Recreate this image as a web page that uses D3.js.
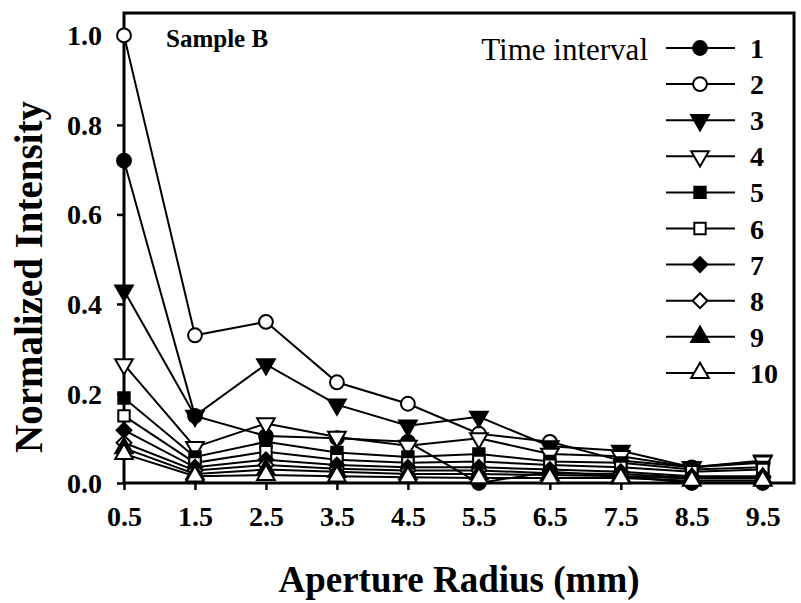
<!DOCTYPE html>
<html>
<head>
<meta charset="utf-8">
<script src="https://cdn.jsdelivr.net/npm/d3@7"></script>
<style>
  body { margin: 0; background: #fff; }
  svg text { font-family: "Times New Roman", "Liberation Serif", Times, serif; }
</style>
</head>
<body>
<svg id="chart" width="801" height="603"></svg>
<script>
// ---------------- data ----------------
const radius = [0.5, 1.5, 2.5, 3.5, 4.5, 5.5, 6.5, 7.5, 8.5, 9.5];
const seriesNames = ["1", "2", "3", "4", "5", "6", "7", "8", "9", "10"];

const s1  = [0.72, 0.15, 0.105, 0.10, 0.092, 0.0, 0.025, 0.015, 0.0, 0.0];
const s2  = [1.0, 0.33, 0.36, 0.225, 0.177, 0.11, 0.092, 0.05, 0.035, 0.045];
const s3  = [0.43, 0.15, 0.265, 0.175, 0.128, 0.148, 0.082, 0.072, 0.035, 0.05];
const s4  = [0.265, 0.08, 0.133, 0.103, 0.083, 0.10, 0.065, 0.06, 0.035, 0.048];
const s5  = [0.19, 0.058, 0.092, 0.068, 0.058, 0.065, 0.048, 0.045, 0.03, 0.035];
const s6  = [0.15, 0.045, 0.07, 0.052, 0.045, 0.048, 0.04, 0.035, 0.025, 0.03];
const s7  = [0.118, 0.035, 0.052, 0.04, 0.035, 0.035, 0.03, 0.025, 0.015, 0.015];
const s8  = [0.09, 0.028, 0.04, 0.032, 0.028, 0.028, 0.022, 0.02, 0.012, 0.012];
const s9  = [0.078, 0.02, 0.03, 0.025, 0.02, 0.02, 0.018, 0.015, 0.01, 0.01];
const s10 = [0.065, 0.015, 0.018, 0.015, 0.013, 0.011, 0.011, 0.011, 0.005, 0.005];

const allSeries = [s1, s2, s3, s4, s5, s6, s7, s8, s9, s10];

const yTicks = [0.0, 0.2, 0.4, 0.6, 0.8, 1.0];

// marker style per series: shape + filled?
const markers = [
  { shape: "circle", fill: true },
  { shape: "circle", fill: false },
  { shape: "tridown", fill: true },
  { shape: "tridown", fill: false },
  { shape: "square", fill: true },
  { shape: "square", fill: false },
  { shape: "diamond", fill: true },
  { shape: "diamond", fill: false },
  { shape: "triup", fill: true },
  { shape: "triup", fill: false }
];

// ---------------- layout ----------------
const svg = d3.select("#chart");
const frame = { left: 124, right: 794, top: 13, bottom: 483 };

const x = d3.scaleLinear().domain([0.5, 9.94]).range([frame.left, frame.right]);
const y = d3.scaleLinear().domain([0, 1.05]).range([frame.bottom, frame.top]);

function symbolPath(shape) {
  if (shape === "circle") return d3.symbol(d3.symbolCircle, 150)();
  if (shape === "square") return d3.symbol(d3.symbolSquare, 130)();
  if (shape === "diamond") return d3.symbol(d3.symbolSquare, 110)();
  return d3.symbol(d3.symbolTriangle, 135)();
}
function symbolRotate(shape) {
  if (shape === "diamond") return 45;
  if (shape === "tridown") return 180;
  return 0;
}

// ---------------- axes ----------------
const xAxis = d3.axisBottom(x).tickValues(radius).tickSize(7).tickFormat(d3.format(".1f"));
const yAxis = d3.axisLeft(y).tickValues(yTicks).tickSize(7).tickFormat(d3.format(".1f"));

const gx = svg.append("g").attr("transform", `translate(0,${frame.bottom})`).call(xAxis);
const gy = svg.append("g").attr("transform", `translate(${frame.left},0)`).call(yAxis);

[gx, gy].forEach(g => {
  g.select(".domain").remove();
  g.selectAll(".tick line").attr("stroke", "#000").attr("stroke-width", 2.5);
  g.selectAll(".tick text")
    .attr("fill", "#000")
    .style("font-size", "28px")
    .style("font-weight", "bold");
});
gx.selectAll(".tick text").attr("dy", "1.05em").attr("y", 14);
gy.selectAll(".tick text").attr("x", -22).attr("dy", "0.34em");

// frame box
svg.append("rect")
  .attr("x", frame.left).attr("y", frame.top)
  .attr("width", frame.right - frame.left)
  .attr("height", frame.bottom - frame.top)
  .attr("fill", "none").attr("stroke", "#000").attr("stroke-width", 3);

// ---------------- series ----------------
const line = d3.line().x((d, i) => x(radius[i])).y(d => y(d));

allSeries.forEach((vals, k) => {
  const m = markers[k];
  const g = svg.append("g");
  g.append("path")
    .attr("d", line(vals))
    .attr("fill", "none").attr("stroke", "#000").attr("stroke-width", 2);
  g.selectAll("path.pt")
    .data(vals)
    .enter()
    .append("path")
    .attr("class", "pt")
    .attr("d", symbolPath(m.shape))
    .attr("transform", (d, i) => `translate(${x(radius[i])},${y(d)}) rotate(${symbolRotate(m.shape)})`)
    .attr("fill", m.fill ? "#000" : "#fff")
    .attr("stroke", "#000").attr("stroke-width", 2);
});

// ---------------- legend ----------------
const legendTop = 48, legendStep = 36.1;
svg.append("text")
  .attr("x", 648).attr("y", legendTop + 12)
  .attr("text-anchor", "end")
  .style("font-size", "31px")
  .text("Time interval");

const lg = svg.selectAll("g.legend")
  .data(seriesNames)
  .enter()
  .append("g")
  .attr("class", "legend")
  .attr("transform", (d, i) => `translate(0,${legendTop + i * legendStep})`);

lg.append("line")
  .attr("x1", 666).attr("x2", 735)
  .attr("stroke", "#000").attr("stroke-width", 2);
lg.append("path")
  .attr("d", (d, i) => symbolPath(markers[i].shape))
  .attr("transform", (d, i) => `translate(700,0) rotate(${symbolRotate(markers[i].shape)})`)
  .attr("fill", (d, i) => markers[i].fill ? "#000" : "#fff")
  .attr("stroke", "#000").attr("stroke-width", 2);
lg.append("text")
  .attr("x", 750).attr("y", 10)
  .style("font-size", "28px").style("font-weight", "bold")
  .text(d => d);

// ---------------- titles ----------------
svg.append("text")
  .attr("x", 166).attr("y", 47)
  .style("font-size", "25px").style("font-weight", "bold")
  .text("Sample B");

svg.append("text")
  .attr("x", 459).attr("y", 592)
  .attr("text-anchor", "middle")
  .style("font-size", "37px").style("font-weight", "bold")
  .text("Aperture Radius (mm)");

svg.append("text")
  .attr("transform", "translate(42,277) rotate(-90)")
  .attr("text-anchor", "middle")
  .style("font-size", "39px").style("font-weight", "bold")
  .text("Normalized Intensity");
</script>
</body>
</html>
